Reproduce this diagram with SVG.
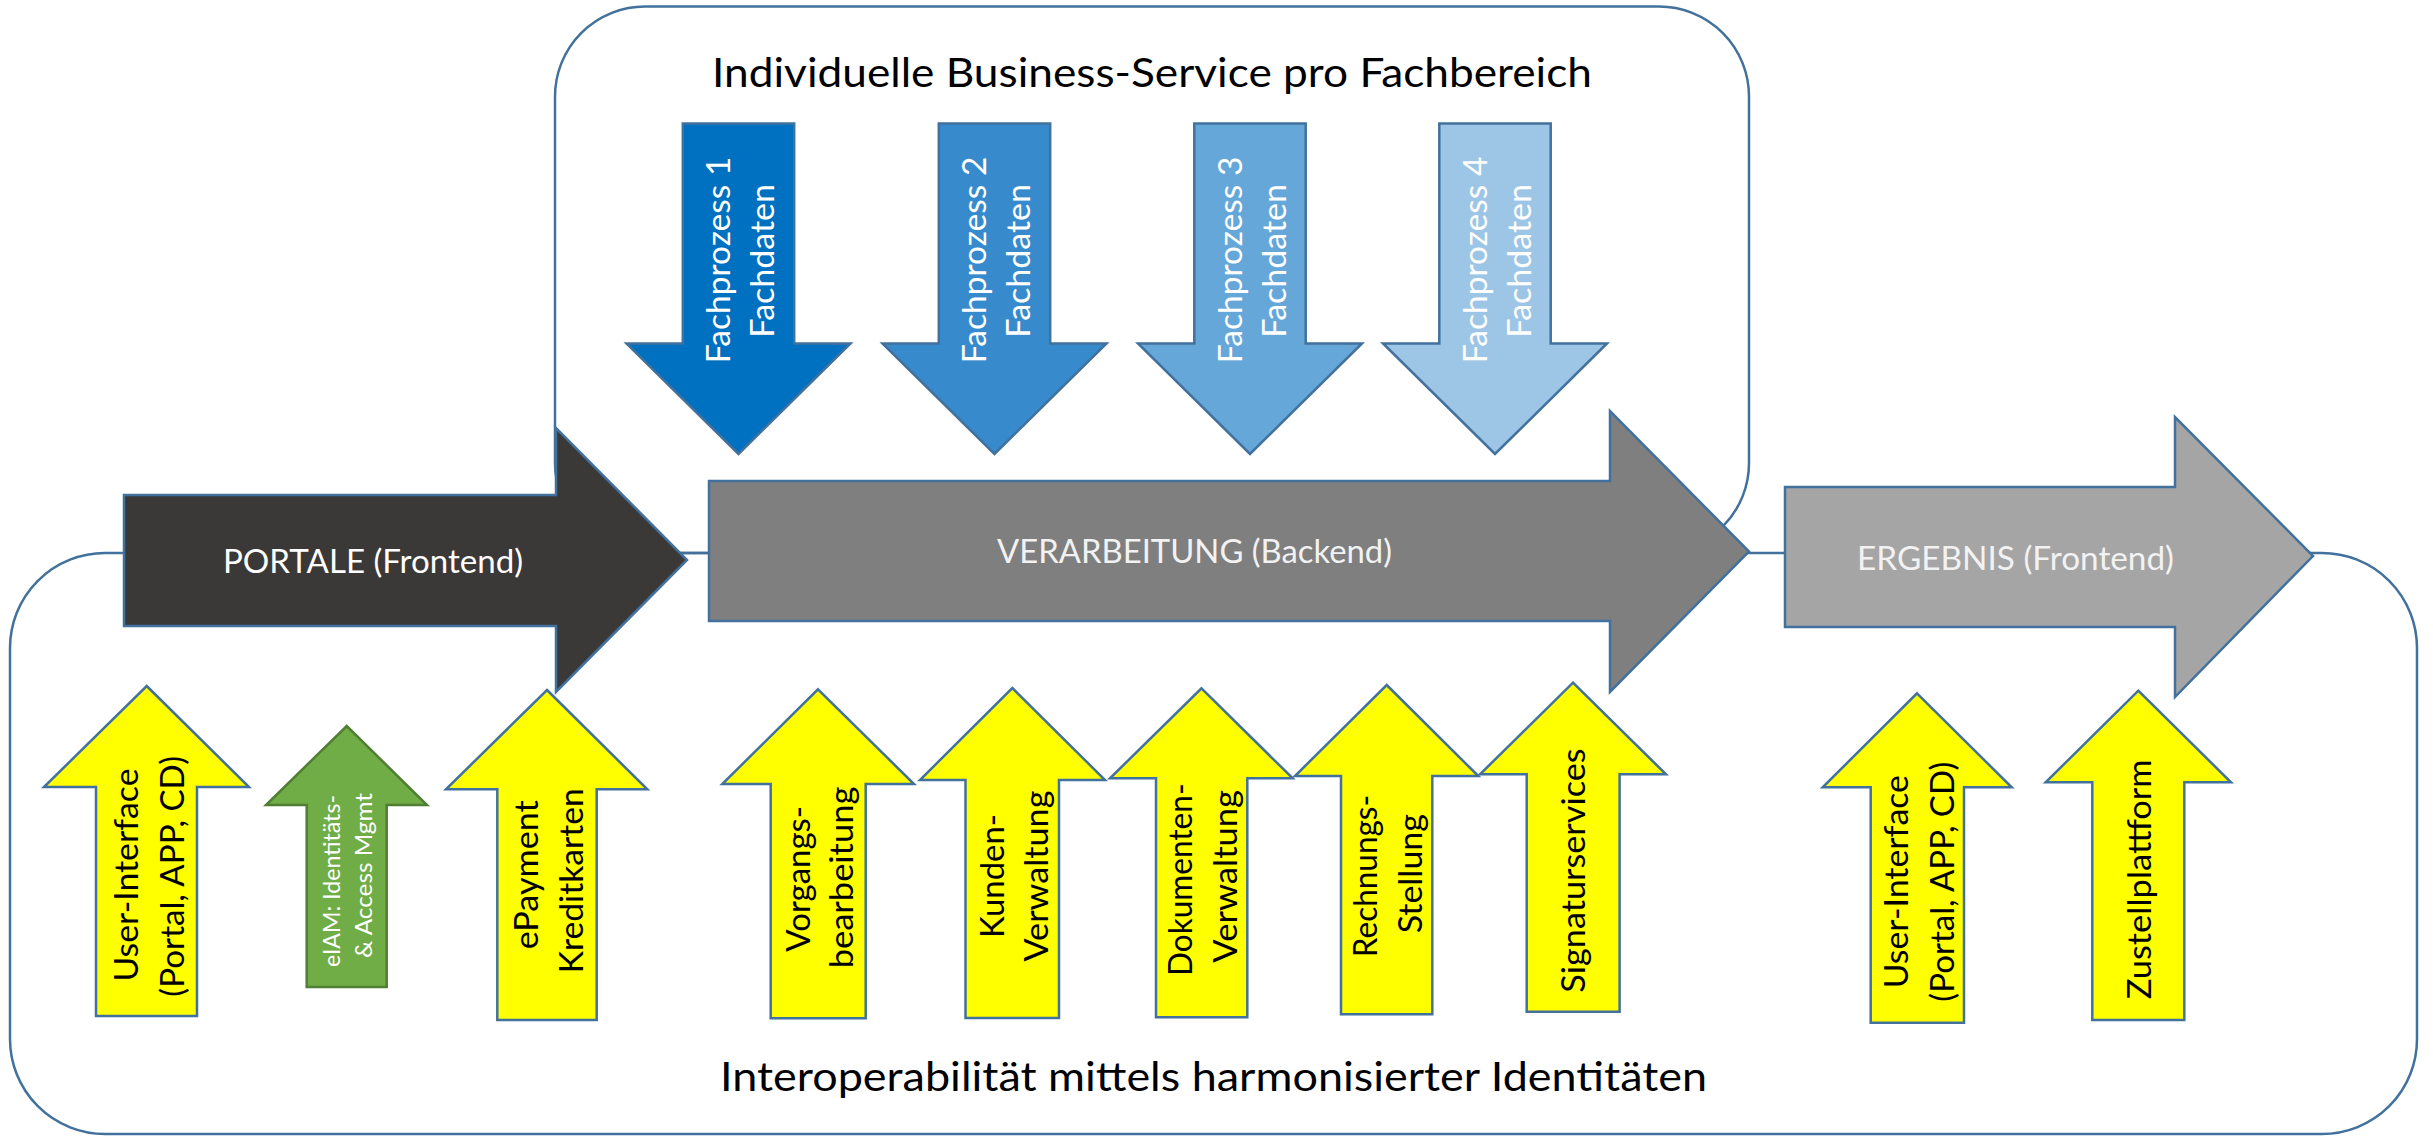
<svg xmlns="http://www.w3.org/2000/svg" width="2433" height="1137" viewBox="0 0 2433 1137">
<style>
.box{fill:none;stroke:#41719C;stroke-width:2.5}
.arr{stroke:#41719C;stroke-width:2.5;stroke-linejoin:miter}
.yel{fill:#FFFF00}
.grn{fill:#70AD47;stroke:#507E32;stroke-width:2.5}
.txt{font-family:Lato,"Open Sans","Liberation Sans",sans-serif}
.w{fill:#FFFFFF}
.k{fill:#000000}
.s33{font-size:33px}
.s24{font-size:23.5px}
.s41{font-size:41px}
</style>
<rect width="2433" height="1137" fill="#FFFFFF"/>
<g id="bottom-container">
<rect class="box" x="10" y="553" width="2407" height="581" rx="95" ry="95"/>
<text class="txt k s41" x="720" y="1090.5" textLength="987" lengthAdjust="spacingAndGlyphs">Interoperabilität mittels harmonisierter Identitäten</text>
</g>
<g id="top-container">
<rect class="box" x="555" y="6.5" width="1194" height="546.5" rx="90" ry="90"/>
<text class="txt k s41" x="712" y="87" textLength="880" lengthAdjust="spacingAndGlyphs">Individuelle Business-Service pro Fachbereich</text>
</g>
<g id="connectors"></g>
<g id="portale">
<path class="arr" fill="#3B3838" d="M124,495 H556 V428 L687,560 L556,692 V626 H124 Z"/>
<text class="txt w s33" x="223" y="573" textLength="300" lengthAdjust="spacingAndGlyphs">PORTALE (Frontend)</text>
</g>
<g id="verarbeitung">
<path class="arr" fill="#7F7F7F" d="M709,481 H1610 V411 L1749,551.5 L1610,692 V621 H709 Z"/>
<text class="txt s33" fill="#F2F2F2" x="997" y="563.3" textLength="395" lengthAdjust="spacingAndGlyphs">VERARBEITUNG (Backend)</text>
</g>
<g id="ergebnis">
<path class="arr" fill="#A5A5A5" d="M1785,487 H2175 V417 L2313,556 L2175,697 V627 H1785 Z"/>
<text class="txt s33" fill="#F2F2F2" x="1857" y="570" textLength="317" lengthAdjust="spacingAndGlyphs">ERGEBNIS (Frontend)</text>
</g>
<g id="fachprozess-1">
<path class="arr" fill="#0070C0" d="M682.8,123.5 H794.2 V343.5 H850.5 L738.5,454 L626.5,343.5 H682.8 Z"/>
<text class="txt w s33" text-anchor="middle" transform="translate(730,260) rotate(-90)" textLength="206.7" lengthAdjust="spacingAndGlyphs">Fachprozess 1</text>
<text class="txt w s33" text-anchor="middle" transform="translate(774,260.8) rotate(-90)" textLength="153.7" lengthAdjust="spacingAndGlyphs">Fachdaten</text>
</g>
<g id="fachprozess-2">
<path class="arr" fill="#378BCC" d="M938.8,123.5 H1050.2 V343.5 H1106.5 L994.5,454 L882.5,343.5 H938.8 Z"/>
<text class="txt w s33" text-anchor="middle" transform="translate(986,260) rotate(-90)" textLength="206.7" lengthAdjust="spacingAndGlyphs">Fachprozess 2</text>
<text class="txt w s33" text-anchor="middle" transform="translate(1030,260.8) rotate(-90)" textLength="153.7" lengthAdjust="spacingAndGlyphs">Fachdaten</text>
</g>
<g id="fachprozess-3">
<path class="arr" fill="#65A7D9" d="M1194.3,123.5 H1305.7 V343.5 H1362 L1250,454 L1138,343.5 H1194.3 Z"/>
<text class="txt w s33" text-anchor="middle" transform="translate(1241.5,260) rotate(-90)" textLength="206.7" lengthAdjust="spacingAndGlyphs">Fachprozess 3</text>
<text class="txt w s33" text-anchor="middle" transform="translate(1285.5,260.8) rotate(-90)" textLength="153.7" lengthAdjust="spacingAndGlyphs">Fachdaten</text>
</g>
<g id="fachprozess-4">
<path class="arr" fill="#9DC5E5" d="M1439.3,123.5 H1550.7 V343.5 H1607 L1495,454 L1383,343.5 H1439.3 Z"/>
<text class="txt w s33" text-anchor="middle" transform="translate(1486.5,260) rotate(-90)" textLength="206.7" lengthAdjust="spacingAndGlyphs">Fachprozess 4</text>
<text class="txt w s33" text-anchor="middle" transform="translate(1530.5,260.8) rotate(-90)" textLength="153.7" lengthAdjust="spacingAndGlyphs">Fachdaten</text>
</g>
<g id="user-interface-1">
<path class="arr yel" d="M146.7,686 L249,787 H197 V1016 H96 V787 H44 Z"/>
<text class="txt k s33" text-anchor="middle" transform="translate(138.3,875) rotate(-90)" textLength="213" lengthAdjust="spacingAndGlyphs">User-Interface</text>
<text class="txt k s33" text-anchor="middle" transform="translate(184,876.3) rotate(-90)" textLength="240.7" lengthAdjust="spacingAndGlyphs">(Portal, APP, CD)</text>
</g>
<g id="eiam">
<path class="grn" d="M346.7,726 L427,805 H386.7 V987 H306.7 V805 H266 Z"/>
<text class="txt w s24" text-anchor="middle" transform="translate(340,881) rotate(-90)" textLength="172" lengthAdjust="spacingAndGlyphs">eIAM: Identitäts-</text>
<text class="txt w s24" text-anchor="middle" transform="translate(371.7,875.5) rotate(-90)" textLength="165" lengthAdjust="spacingAndGlyphs">&amp; Access Mgmt</text>
</g>
<g id="epayment">
<path class="arr yel" d="M547,690 L647.3,789.3 H596.7 V1020 H497.3 V789.3 H446 Z"/>
<text class="txt k s33" text-anchor="middle" transform="translate(538.3,874.7) rotate(-90)" textLength="149" lengthAdjust="spacingAndGlyphs">ePayment</text>
<text class="txt k s33" text-anchor="middle" transform="translate(582.7,880.8) rotate(-90)" textLength="185" lengthAdjust="spacingAndGlyphs">Kreditkarten</text>
</g>
<g id="vorgangsbearbeitung">
<path class="arr yel" d="M818,689.3 L914,784 H865.7 V1018.3 H770.7 V784 H722.3 Z"/>
<text class="txt k s33" text-anchor="middle" transform="translate(810,878.8) rotate(-90)" textLength="145.7" lengthAdjust="spacingAndGlyphs">Vorgangs-</text>
<text class="txt k s33" text-anchor="middle" transform="translate(853.3,877.5) rotate(-90)" textLength="181.7" lengthAdjust="spacingAndGlyphs">bearbeitung</text>
</g>
<g id="kundenverwaltung">
<path class="arr yel" d="M1012.3,688 L1105,780 H1059 V1018 H965.5 V780 H920 Z"/>
<text class="txt k s33" text-anchor="middle" transform="translate(1003.5,876) rotate(-90)" textLength="124" lengthAdjust="spacingAndGlyphs">Kunden-</text>
<text class="txt k s33" text-anchor="middle" transform="translate(1048,876) rotate(-90)" textLength="171" lengthAdjust="spacingAndGlyphs">Verwaltung</text>
</g>
<g id="dokumentenverwaltung">
<path class="arr yel" d="M1201.5,688.3 L1292.7,778.3 H1247.3 V1017.3 H1156 V778.3 H1110 Z"/>
<text class="txt k s33" text-anchor="middle" transform="translate(1191.7,879.7) rotate(-90)" textLength="192.7" lengthAdjust="spacingAndGlyphs">Dokumenten-</text>
<text class="txt k s33" text-anchor="middle" transform="translate(1236.7,876.3) rotate(-90)" textLength="172.7" lengthAdjust="spacingAndGlyphs">Verwaltung</text>
</g>
<g id="rechnungsstellung">
<path class="arr yel" d="M1386.7,685 L1478.3,776 H1432.3 V1014.3 H1341 V776 H1295 Z"/>
<text class="txt k s33" text-anchor="middle" transform="translate(1376.7,876) rotate(-90)" textLength="162.3" lengthAdjust="spacingAndGlyphs">Rechnungs-</text>
<text class="txt k s33" text-anchor="middle" transform="translate(1421.7,873.7) rotate(-90)" textLength="119.3" lengthAdjust="spacingAndGlyphs">Stellung</text>
</g>
<g id="signaturservices">
<path class="arr yel" d="M1573,682.7 L1666,774.3 H1619.6 V1011.7 H1526.7 V774.3 H1480 Z"/>
<text class="txt k s33" text-anchor="middle" transform="translate(1585,870.5) rotate(-90)" textLength="244.3" lengthAdjust="spacingAndGlyphs">Signaturservices</text>
</g>
<g id="user-interface-2">
<path class="arr yel" d="M1917,693.3 L2011.7,787.3 H1964 V1022.7 H1870.7 V787.3 H1822.7 Z"/>
<text class="txt k s33" text-anchor="middle" transform="translate(1908.3,881.7) rotate(-90)" textLength="213.3" lengthAdjust="spacingAndGlyphs">User-Interface</text>
<text class="txt k s33" text-anchor="middle" transform="translate(1954,881.7) rotate(-90)" textLength="240" lengthAdjust="spacingAndGlyphs">(Portal, APP, CD)</text>
</g>
<g id="zustellplattform">
<path class="arr yel" d="M2138.3,690.7 L2231,782.3 H2184.3 V1020 H2092.3 V782.3 H2045.7 Z"/>
<text class="txt k s33" text-anchor="middle" transform="translate(2150.7,879.3) rotate(-90)" textLength="240" lengthAdjust="spacingAndGlyphs">Zustellplattform</text>
</g>
</svg>
